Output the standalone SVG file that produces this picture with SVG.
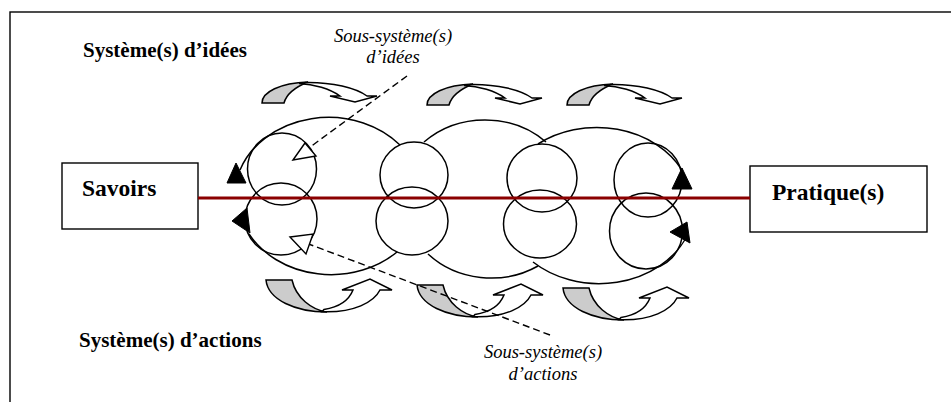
<svg xmlns="http://www.w3.org/2000/svg" width="951" height="402" viewBox="0 0 951 402">
<style>
  .ln{fill:none;stroke:#000;stroke-width:1.5}
  .box{fill:#fff;stroke:#000;stroke-width:1.4}
  .bold{font-family:"Liberation Serif","Times New Roman",serif;font-weight:bold;fill:#000}
  .ital{font-family:"Liberation Serif","Times New Roman",serif;font-style:italic;font-size:18.5px;fill:#000;text-anchor:middle}
  .gray{fill:#cccccc;stroke:#000;stroke-width:1.5;stroke-linejoin:miter}
  .white{fill:#fff;stroke:#000;stroke-width:1.5;stroke-linejoin:miter}
  .tri{fill:#000;stroke:#000;stroke-width:1}
  .dash{fill:none;stroke:#000;stroke-width:1.4;stroke-dasharray:7 4}
  .hollow{fill:#fff;stroke:#000;stroke-width:1.4}
</style>
<defs>
  <g id="topArrow">
    <path class="gray" d="M0,0 C0,-11 18,-20 46,-21 C36,-17 25,-11 22,0 Z"/>
    <path class="white" d="M44,-20.6 C70,-21 94,-15 105,-7 L115,-7 L93,-1 L68,-7 L78,-7 C68,-14 52,-19 37,-19.6 Z"/>
  </g>
  <g id="botArrow">
    <path class="gray" d="M0,0 C2,20 30,32 61,32 C46,30 30,18 26,0 Z"/>
    <path class="white" d="M56,31.7 C88,33 108,22 114,10 L126,10 L104,-1 L76,10 L87,10 C83,20 74,27 58,29.5 Z"/>
  </g>
</defs>

<rect id="frame" x="10" y="12" width="1000" height="500" fill="#fff" stroke="#000" stroke-width="1.4"/>

<g id="labels">
  <text class="bold" x="83" y="57" font-size="21">Système(s) d’idées</text>
  <text class="bold" x="79" y="347" font-size="21">Système(s) d’actions</text>
  <text class="ital" x="393" y="42">Sous-système(s)</text>
  <text class="ital" x="393" y="63">d’idées</text>
  <text class="ital" x="543" y="358">Sous-système(s)</text>
  <text class="ital" x="543" y="380">d’actions</text>
</g>

<g id="node-savoirs">
  <rect class="box" x="62" y="163" width="136" height="66"/>
  <text class="bold" x="82" y="196" font-size="23.5">Savoirs</text>
</g>
<g id="node-pratiques">
  <rect class="box" x="750" y="166" width="177" height="66"/>
  <text class="bold" x="772" y="200" font-size="23.5">Pratique(s)</text>
</g>

<g id="flow-arrows">
  <use href="#topArrow" x="262" y="103"/>
  <use href="#topArrow" x="427" y="105"/>
  <use href="#topArrow" x="567" y="105"/>
  <use href="#botArrow" x="266" y="280"/>
  <use href="#botArrow" x="417" y="285"/>
  <use href="#botArrow" x="563" y="288"/>
</g>

<g id="systems">
  <!-- big systems -->
  <path class="ln" d="M240,170 A94,79 0 0 1 400,145"/>
  <path class="ln" d="M249,234 A94,79 0 0 0 397,252"/>
  <path class="ln" d="M424,142 A88,79 0 0 1 546,142"/>
  <path class="ln" d="M428,254 A88,79 0 0 0 538,266"/>
  <path class="ln" d="M538,144 A96,79 0 0 1 682,170"/>
  <path class="ln" d="M533,262 A96,79 0 0 0 686,238"/>
  <!-- sub-systems -->
  <ellipse class="ln" cx="282" cy="169" rx="34.5" ry="36"/>
  <ellipse class="ln" cx="281" cy="219" rx="36" ry="36"/>
  <ellipse class="ln" cx="414" cy="175" rx="34" ry="33"/>
  <ellipse class="ln" cx="412" cy="221" rx="36" ry="34"/>
  <ellipse class="ln" cx="542" cy="178" rx="35" ry="34"/>
  <ellipse class="ln" cx="540" cy="224" rx="36.5" ry="34"/>
  <ellipse class="ln" cx="648" cy="180" rx="34" ry="37"/>
  <ellipse class="ln" cx="646" cy="231" rx="36.5" ry="38"/>
  <!-- arrowheads -->
  <polygon class="tri" points="236,163 227,183 246,183"/>
  <polygon class="tri" points="232,221 247,208 250,233"/>
  <polygon class="tri" points="682,168 672,189 692,189"/>
  <polygon class="tri" points="670,232 687,222 690,243"/>
</g>

<g id="connectors">
  <line x1="198" y1="198" x2="750" y2="198" stroke="#8b0000" stroke-width="3"/>
  <line class="dash" x1="407" y1="76" x2="302" y2="153"/>
  <polygon class="hollow" points="293,160 305,143 316,156"/>
  <line class="dash" x1="550" y1="335" x2="298" y2="240"/>
  <polygon class="hollow" points="290,237 313,234 306,254"/>
</g>
</svg>
